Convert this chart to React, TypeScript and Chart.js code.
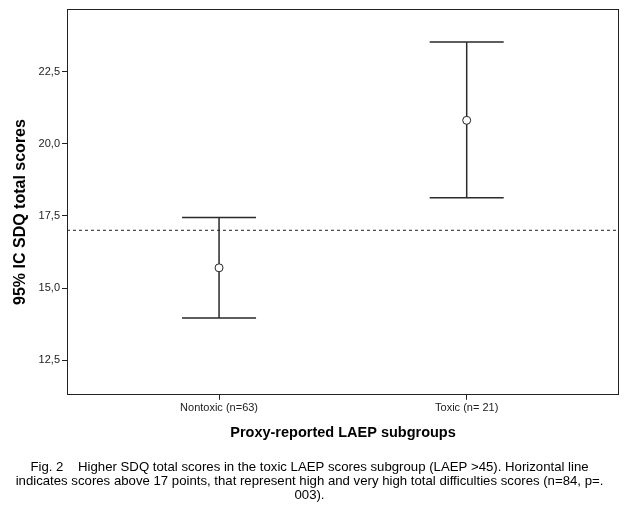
import React, { useEffect, useRef } from 'react';
import { Chart, registerables } from 'chart.js';

Chart.register(...registerables);

const categories = ['Nontoxic (n=63)', 'Toxic (n= 21)'];
const categoryX = [1, 2];
const means = [15.7, 20.81];
const lowerCI = [13.96, 18.13];
const upperCI = [17.44, 23.52];
const referenceValue = 17;
const yTicks = [12.5, 15, 17.5, 20, 22.5];
const xRange = [0.386, 2.615];
const yRange = [11.3, 24.68];
const yTitle = '95% IC SDQ total scores';
const xTitle = 'Proxy-reported LAEP subgroups';
const captionLines = [
  'Fig. 2    Higher SDQ total scores in the toxic LAEP scores subgroup (LAEP >45). Horizontal line',
  'indicates scores above 17 points, that represent high and very high total difficulties scores (n=84, p=.',
  '003).',
];

const FONT = '"Liberation Sans", Arial, sans-serif';

const errorBarPlugin = {
  id: 'errorBars',
  beforeDatasetsDraw(chart: any) {
    const { ctx, scales } = chart;
    const xs = scales.x;
    const ys = scales.y;
    ctx.save();
    ctx.strokeStyle = '#2a2a2a';
    ctx.lineWidth = 1.5;
    categoryX.forEach((cx, i) => {
      const px = xs.getPixelForValue(cx);
      const pl = ys.getPixelForValue(lowerCI[i]);
      const pu = ys.getPixelForValue(upperCI[i]);
      ctx.beginPath();
      ctx.moveTo(px, pl);
      ctx.lineTo(px, pu);
      ctx.moveTo(px - 37, pl);
      ctx.lineTo(px + 37, pl);
      ctx.moveTo(px - 37, pu);
      ctx.lineTo(px + 37, pu);
      ctx.stroke();
    });
    ctx.restore();
  },
  afterDraw(chart: any) {
    const { ctx, chartArea } = chart;
    ctx.save();
    ctx.strokeStyle = '#222';
    ctx.lineWidth = 1;
    const l = Math.round(chartArea.left) + 0.5;
    const t = Math.round(chartArea.top) + 0.5;
    const r = Math.round(chartArea.right) - 0.5;
    const b = Math.round(chartArea.bottom) - 0.5;
    ctx.strokeRect(l, t, r - l, b - t);
    // y-axis title
    ctx.translate(21, 212);
    ctx.rotate(-Math.PI / 2);
    ctx.fillStyle = '#000';
    ctx.font = `bold 16px ${FONT}`;
    ctx.textAlign = 'center';
    ctx.textBaseline = 'middle';
    ctx.fillText(yTitle, 0, 0);
    ctx.restore();
  },
};

export default function App() {
  const ref = useRef<HTMLCanvasElement | null>(null);
  useEffect(() => {
    if (!ref.current) return;
    const chart = new Chart(ref.current, {
      type: 'scatter',
      data: {
        datasets: [
          {
            type: 'line',
            data: [
              { x: xRange[0], y: referenceValue },
              { x: xRange[1], y: referenceValue },
            ],
            borderColor: '#222',
            borderWidth: 1,
            borderDash: [3, 3],
            pointRadius: 0,
            fill: false,
          } as any,
          {
            type: 'scatter',
            data: categoryX.map((x, i) => ({ x, y: means[i] })),
            pointRadius: 4,
            pointBorderWidth: 1,
            pointBorderColor: '#222',
            pointBackgroundColor: '#fff',
          },
        ],
      },
      options: {
        animation: false,
        responsive: false,
        devicePixelRatio: 1,
        layout: { padding: { top: 5, right: 7, left: 0, bottom: 0 } },
        plugins: {
          legend: { display: false },
          tooltip: { enabled: false },
          title: {
            display: true,
            position: 'bottom',
            text: captionLines,
            color: '#000',
            font: { family: FONT, size: 13.2, weight: 'normal', lineHeight: 1.04 },
            padding: { top: 10, bottom: 19 },
          },
        },
        scales: {
          x: {
            type: 'linear',
            min: xRange[0],
            max: xRange[1],
            afterBuildTicks: (s: any) => {
              s.ticks = categoryX.map((v) => ({ value: v }));
            },
            afterFit: (s: any) => {
              s.height = 56;
            },
            grid: { drawOnChartArea: false, drawTicks: true, tickLength: 5, color: '#222' },
            border: { display: false },
            ticks: {
              color: '#222',
              padding: 2,
              maxRotation: 0,
              font: { family: FONT, size: 11 },
              callback: (_v: any, i: number) => categories[i],
            },
            title: {
              display: true,
              text: xTitle,
              color: '#000',
              font: { family: FONT, size: 14.5, weight: 'bold', lineHeight: 1.2 },
              padding: { top: 0, bottom: 9 },
            },
          },
          y: {
            type: 'linear',
            min: yRange[0],
            max: yRange[1],
            afterBuildTicks: (s: any) => {
              s.ticks = yTicks.map((v) => ({ value: v }));
            },
            afterFit: (s: any) => {
              s.width = 67;
            },
            grid: { drawOnChartArea: false, drawTicks: true, tickLength: 5, color: '#222' },
            border: { display: false },
            ticks: {
              color: '#222',
              padding: 2,
              font: { family: FONT, size: 11 },
              callback: (v: any) => Number(v).toFixed(1).replace('.', ','),
            },
          },
        },
      },
      plugins: [errorBarPlugin],
    });
    return () => chart.destroy();
  }, []);
  return (
    <div style={{ position: 'absolute', left: 0, top: 0, width: 626, height: 521, background: '#fff' }}>
      <canvas ref={ref} width={626} height={521} />
    </div>
  );
}
